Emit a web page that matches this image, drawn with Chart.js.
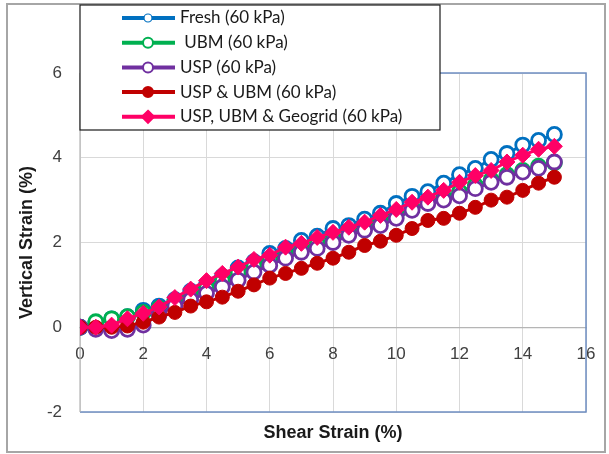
<!DOCTYPE html>
<html>
<head>
<meta charset="utf-8">
<script src="https://cdn.jsdelivr.net/npm/chart.js@4"></script>
<style>
  body { margin: 0; background: #fff; }
</style>
</head>
<body>
<canvas id="strainChart" width="609" height="454"></canvas>
<script>
// shear strain (%) for every reading
var shearStrain = [0, 0.5, 1, 1.5, 2, 2.5, 3, 3.5, 4, 4.5, 5, 5.5, 6, 6.5, 7, 7.5,
  8, 8.5, 9, 9.5, 10, 10.5, 11, 11.5, 12, 12.5, 13, 13.5, 14, 14.5, 15];

// vertical strain (%) per test
var fresh = [0, 0.1, 0.2, 0.25, 0.4, 0.5, 0.65, 0.85, 1.0, 1.2, 1.4, 1.55, 1.74, 1.86, 2.05, 2.15,
  2.33, 2.4, 2.55, 2.69, 2.92, 3.09, 3.2, 3.4, 3.6, 3.75, 3.96, 4.1, 4.3, 4.41, 4.55];
var ubm = [0, 0.13, 0.2, 0.25, 0.35, 0.45, 0.6, 0.75, 0.92, 1.1, 1.3, 1.45, 1.6, 1.72, 1.85, 1.97,
  2.1, 2.25, 2.38, 2.5, 2.65, 2.8, 2.95, 3.08, 3.2, 3.35, 3.48, 3.6, 3.7, 3.8, 3.88];
var usp = [0, -0.05, -0.08, -0.05, 0.05, 0.3, 0.5, 0.65, 0.8, 0.95, 1.11, 1.3, 1.46, 1.63, 1.77, 1.86,
  2.0, 2.17, 2.29, 2.4, 2.57, 2.76, 2.92, 3.0, 3.1, 3.27, 3.42, 3.54, 3.66, 3.75, 3.9];
var uspUbm = [0, 0, 0, 0.03, 0.12, 0.24, 0.35, 0.5, 0.6, 0.71, 0.85, 1.0, 1.16, 1.27, 1.39, 1.51,
  1.63, 1.77, 1.93, 2.03, 2.17, 2.33, 2.52, 2.57, 2.69, 2.83, 3.0, 3.07, 3.23, 3.4, 3.54];
var geogrid = [0, 0, 0.05, 0.2, 0.33, 0.48, 0.7, 0.9, 1.1, 1.27, 1.42, 1.6, 1.7, 1.89, 1.98, 2.12,
  2.24, 2.36, 2.48, 2.64, 2.78, 2.95, 3.07, 3.23, 3.42, 3.58, 3.7, 3.9, 4.06, 4.2, 4.27];

var seriesNames = ['Fresh (60 kPa)', ' UBM (60 kPa)', 'USP (60 kPa)', 'USP & UBM (60 kPa)', 'USP, UBM & Geogrid (60 kPa)'];
var xTicks = [0, 2, 4, 6, 8, 10, 12, 14, 16];
var yTicks = [-2, 0, 2, 4, 6];

function pts(ys) {
  return ys.map(function (y, i) { return { x: shearStrain[i], y: y }; });
}

function series(i, ys, color, style, filled, order) {
  return {
    label: seriesNames[i],
    data: pts(ys),
    borderColor: color,
    backgroundColor: color,
    borderWidth: 3,
    pointStyle: style,
    pointRadius: style === 'rectRot' ? 8 : 7,
    pointBorderWidth: filled ? 1 : 2.8,
    pointBackgroundColor: filled ? color : '#fff',
    pointBorderColor: color,
    order: order
  };
}

// plot frame: blue on right/bottom/top, grey on the left
var frame = {
  id: 'frame',
  beforeDatasetsDraw: function (chart) {
    var a = chart.chartArea, ctx = chart.ctx;
    ctx.save();
    ctx.lineWidth = 1.5;
    ctx.strokeStyle = '#6f8ec2';
    ctx.beginPath();
    ctx.moveTo(a.left, a.top);
    ctx.lineTo(a.right, a.top);
    ctx.lineTo(a.right, a.bottom);
    ctx.lineTo(a.left, a.bottom);
    ctx.stroke();
    ctx.strokeStyle = '#b5b5b5';
    ctx.lineWidth = 1.2;
    ctx.beginPath();
    ctx.moveTo(a.left, a.top);
    ctx.lineTo(a.left, a.bottom);
    ctx.stroke();
    ctx.restore();
  },
  afterDraw: function (chart) {
    var ctx = chart.ctx;
    ctx.save();
    // outer border
    ctx.strokeStyle = '#a6a6a6';
    ctx.lineWidth = 2;
    ctx.strokeRect(7, 4, 598, 448);

    // legend box
    var lx = 80, ly = 5, lw = 360, lh = 125;
    ctx.fillStyle = '#fff';
    ctx.fillRect(lx, ly, lw, lh);
    ctx.strokeStyle = '#1a1a1a';
    ctx.lineWidth = 1.2;
    ctx.strokeRect(lx, ly, lw, lh);

    ctx.font = '17px Lato';
    ctx.textBaseline = 'middle';
    ctx.textAlign = 'left';
    var dsets = chart.data.datasets;
    for (var i = 0; i < dsets.length; i++) {
      var d = dsets[i];
      var y = 18 + i * 24.7;
      ctx.strokeStyle = d.borderColor;
      ctx.lineWidth = 4;
      ctx.beginPath();
      ctx.moveTo(122, y);
      ctx.lineTo(175, y);
      ctx.stroke();
      ctx.fillStyle = d.pointBackgroundColor;
      ctx.strokeStyle = d.borderColor;
      ctx.lineWidth = i === 0 ? 1.2 : 2;
      ctx.beginPath();
      if (d.pointStyle === 'rectRot') {
        ctx.moveTo(148, y - 6);
        ctx.lineTo(154, y);
        ctx.lineTo(148, y + 6);
        ctx.lineTo(142, y);
        ctx.closePath();
      } else {
        ctx.arc(148, y, i === 0 ? 4 : 5, 0, Math.PI * 2);
      }
      ctx.fill();
      ctx.stroke();
      ctx.fillStyle = '#1a1a1a';
      ctx.fillText(d.label, 180, y);
    }
    ctx.restore();
  }
};

new Chart('strainChart', {
  type: 'line',
  data: {
    datasets: [
      series(0, fresh, '#0070c0', 'circle', false, 5),
      series(1, ubm, '#00b050', 'circle', false, 4),
      series(2, usp, '#7030a0', 'circle', false, 3),
      series(3, uspUbm, '#c00000', 'circle', true, 2),
      series(4, geogrid, '#ff0066', 'rectRot', true, 1)
    ]
  },
  options: {
    responsive: false,
    animation: false,
    layout: { padding: { left: 0, right: 23, top: 73, bottom: 0 } },
    plugins: { legend: { display: false }, tooltip: { enabled: false } },
    scales: {
      x: {
        type: 'linear',
        position: { y: 0 },
        min: 0, max: 16,
        afterBuildTicks: function (s) { s.ticks = xTicks.map(function (v) { return { value: v }; }); },
        afterFit: function (s) { s.height = 0; s.paddingLeft = 0; s.paddingRight = 0; },
        grid: { color: '#d9d9d9', drawTicks: false },
        border: { color: '#b5b5b5', width: 1.2 },
        ticks: { color: '#404040', font: { size: 17 }, padding: 17, maxRotation: 0 }
      },
      x2: {
        type: 'linear',
        position: 'bottom',
        min: 0, max: 16,
        afterFit: function (s) { s.height = 42; },
        grid: { display: false },
        border: { display: false },
        ticks: { display: false },
        title: { display: true, text: 'Shear Strain (%)', color: '#1a1a1a', font: { size: 18, weight: 'bold' }, padding: { bottom: 10 } }
      },
      y: {
        min: -2, max: 6,
        afterBuildTicks: function (s) { s.ticks = yTicks.map(function (v) { return { value: v }; }); },
        afterFit: function (s) { s.width = 80; },
        grid: { color: '#d9d9d9', drawTicks: false },
        border: { display: false },
        ticks: { color: '#404040', font: { size: 17 }, padding: 18 },
        title: { display: true, text: 'Vertical Strain (%)', color: '#1a1a1a', font: { size: 18, weight: 'bold' }, padding: { top: 16 } }
      }
    }
  },
  plugins: [frame]
});
</script>
</body>
</html>
